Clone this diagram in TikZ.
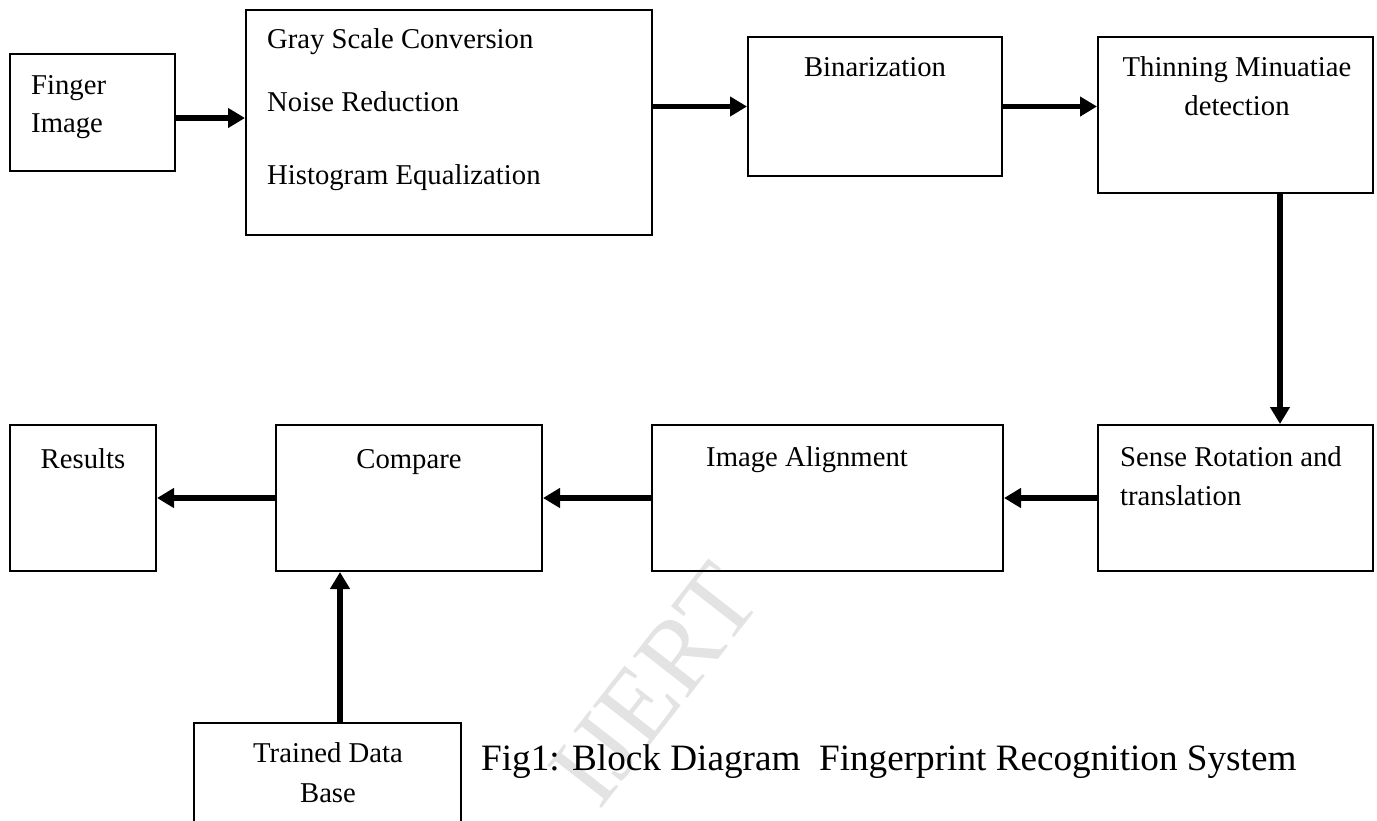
\documentclass[tikz,border=0pt]{standalone}
\usepackage{fontspec}
\setmainfont{Liberation Serif}
\usetikzlibrary{arrows.meta,positioning}

\tikzset{
  blk/.style={draw, line width=2pt, inner sep=0pt},
  txt/.style={inner sep=0pt, font=\fontsize{28.7}{38}\selectfont},
  capt/.style={inner sep=0pt, font=\fontsize{37.2}{44}\selectfont},
  wmark/.style={inner sep=0pt, text=black!11, rotate=52, font=\fontsize{105}{120}\selectfont},
  arr/.style={line width=5.5pt, -{Triangle[length=17pt,width=19pt]}},
}

\begin{document}
\begin{tikzpicture}[x=1pt,y=1pt,yscale=-1,xscale=1]
		\useasboundingbox (0,0) rectangle (1377,820);

		% watermark
		\node[wmark] (wm) at (655,685) {IJERT};

		% top row
		\node[blk, minimum width=165, minimum height=117] (fing) at (92.5,112.5) {};
		\node[blk, minimum width=406, minimum height=225] (gray) at (449,122.5) {};
		\node[blk, minimum width=254, minimum height=139] (bin) at (875,106.5) {};
		\node[blk, minimum width=275, minimum height=156] (thin) at (1235.5,115) {};

		% bottom row
		\node[blk, minimum width=275, minimum height=146] (sense) at (1235.5,498) {};
		\node[blk, minimum width=351, minimum height=146] (align) at (827.5,498) {};
		\node[blk, minimum width=266, minimum height=146] (cmp) at (409,498) {};
		\node[blk, minimum width=146, minimum height=146] (res) at (83,498) {};
		\node[blk, minimum width=267, minimum height=127] (db) at (327.5,786.5) {};

		% Text Node
		\node[txt, anchor=base west] (fingA) at (31,94) {Finger};
		\node[txt, anchor=base west] (fingB) at (31,132) {Image};
		\node[txt, anchor=base west] (grayA) at (267,48) {Gray Scale Conversion};
		\node[txt, anchor=base west] (grayB) at (267,111) {Noise Reduction};
		\node[txt, anchor=base west] (grayC) at (267,184) {Histogram Equalization};
		\node[txt, anchor=base] (binA) at (875,76) {Binarization};
		\node[txt, anchor=base] (thinA) at (1237,76) {Thinning Minuatiae};
		\node[txt, anchor=base] (thinB) at (1237,115) {detection};
		\node[txt, anchor=base west] (senseA) at (1120,466) {Sense Rotation and};
		\node[txt, anchor=base west] (senseB) at (1120,505) {translation};
		\node[txt, anchor=base west] (alignA) at (706,466) {Image Alignment};
		\node[txt, anchor=base] (cmpA) at (409,468) {Compare};
		\node[txt, anchor=base] (resA) at (83,468) {Results};
		\node[txt, anchor=base] (dbA) at (328,762) {Trained Data};
		\node[txt, anchor=base] (dbB) at (328,802) {Base};
		\node[capt, anchor=base west] (cap) at (481,770) {Fig1: Block Diagram\ \ Fingerprint Recognition System};

		% connectors
		\draw[arr] ([yshift=5.5pt]fing.east) -- ([yshift=5.5pt]fing.east -| gray.west);
		\draw[arr] (gray.east |- bin.west) -- (bin.west);
		\draw[arr] (bin.east) -- (bin.east -| thin.west);
		\draw[arr] ([xshift=44.5pt]thin.south) -- ([xshift=44.5pt]thin.south |- sense.north);
		\draw[arr] (sense.west) -- (align.east);
		\draw[arr] (align.west) -- (cmp.east);
		\draw[arr] (cmp.west) -- (res.east);
		\draw[arr] ([xshift=12.5pt]db.north) -- ([xshift=12.5pt]db.north |- cmp.south);

		\end{tikzpicture}
\end{document}
